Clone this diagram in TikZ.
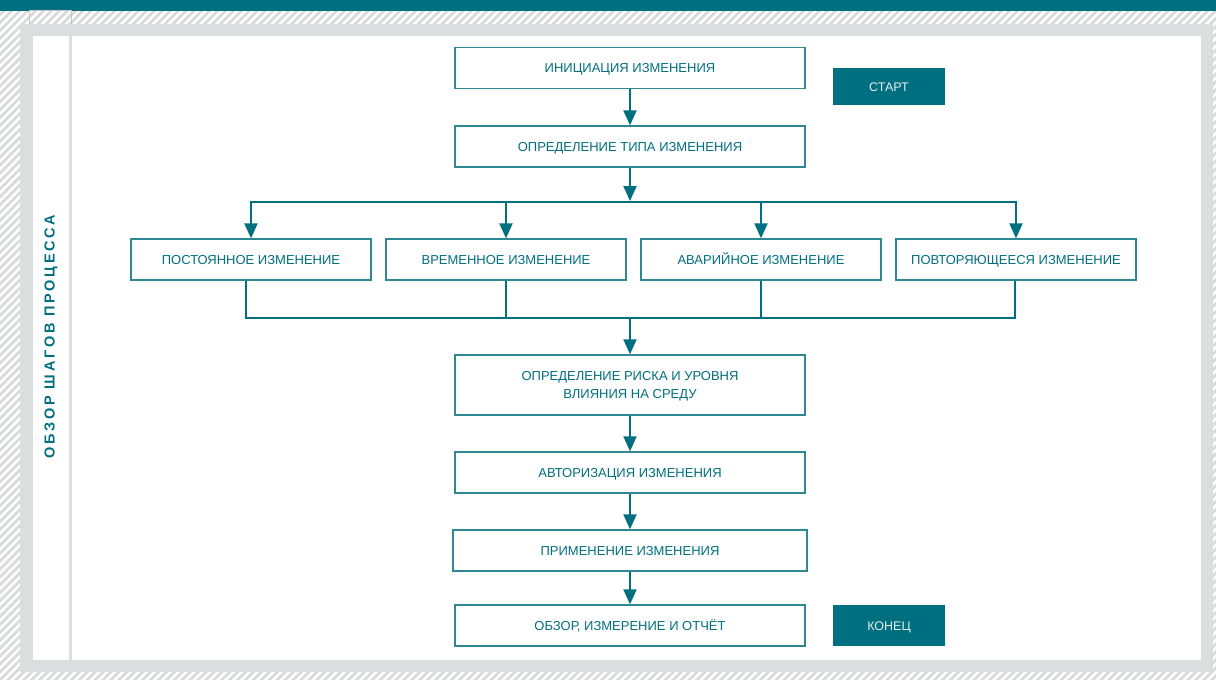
\documentclass[tikz,border=0pt]{standalone}
\usepackage{fontspec}
\setmainfont{Liberation Sans}
\newfontfamily\sidefont[LetterSpace=19]{Liberation Sans}
\usetikzlibrary{arrows.meta,patterns.meta}
\definecolor{teal1}{HTML}{006F7F}
\definecolor{tealline}{HTML}{2E8792}
\definecolor{bandgray}{HTML}{DCDDDF}
\definecolor{hatchgray}{HTML}{D9DADC}
\definecolor{tabgray}{HTML}{C4C8CB}
\definecolor{whitetxt}{HTML}{E2F0F1}
\tikzset{
  x=1pt, y=-1pt,
  stepbox/.style={draw=tealline, line width=1.3pt, fill=white, text=teal1,
    font=\fontsize{13}{16}\selectfont, align=center, inner sep=0pt,
    text height=9.4pt, text depth=0pt,
    minimum width=350pt, minimum height=41pt},
  branchbox/.style={stepbox, minimum width=240pt},
  termbox/.style={fill=teal1, text=whitetxt, font=\fontsize{12.5}{15}\selectfont,
    inner sep=0pt, text height=9pt, text depth=0pt, minimum width=112pt},
  txt/.style={text=teal1, font=\fontsize{13}{18}\selectfont, align=center, inner sep=0pt},
  ln/.style={draw=teal1, line width=2pt},
  arr/.style={ln, -{Triangle[width=13pt,length=15pt]}},
}
\begin{document}
\begin{tikzpicture}
\useasboundingbox (0,0) rectangle (1216,680);
% background hatching
\fill[white] (0,0) rectangle (1216,680);
\fill[pattern={Lines[angle=45,distance=5.6pt,line width=2.8pt]}, pattern color=hatchgray] (0,11) rectangle (1216,680);
% gray band and white panel
\fill[bandgray] (20,23.5) rectangle (1213,672);
\fill[white] (33,36) rectangle (1201,660);
% top bar
\fill[teal1] (0,0) rectangle (1216,11);
% tab
\draw[tabgray, line width=1.2pt] (29.5,23.5) -- (29.5,10.2) -- (71.5,10.2) -- (71.5,23.5);
% divider
\draw[bandgray, line width=2.4pt] (70.5,36) -- (70.5,660);
% side label
\node[rotate=90, text=teal1, font=\sidefont\bfseries\fontsize{14.5}{17}\selectfont] (side) at (51,336.5) {ОБЗОР ШАГОВ ПРОЦЕССА};

% nodes
\node[stepbox] (b1) at (630,68) {ИНИЦИАЦИЯ ИЗМЕНЕНИЯ};
\node[termbox, minimum height=37pt] (start) at (889,86.5) {СТАРТ};
\node[stepbox] (b2) at (630,146.5) {ОПРЕДЕЛЕНИЕ ТИПА ИЗМЕНЕНИЯ};
\node[branchbox] (p1) at (251,259.5) {ПОСТОЯННОЕ ИЗМЕНЕНИЕ};
\node[branchbox] (p2) at (506,259.5) {ВРЕМЕННОЕ ИЗМЕНЕНИЕ};
\node[branchbox] (p3) at (761,259.5) {АВАРИЙНОЕ ИЗМЕНЕНИЕ};
\node[branchbox] (p4) at (1016,259.5) {ПОВТОРЯЮЩЕЕСЯ ИЗМЕНЕНИЕ};
\node[stepbox, minimum height=60pt] (b5) at (630,385) {};
\node[txt] (b5t) at (630,386.5) {ОПРЕДЕЛЕНИЕ РИСКА И УРОВНЯ\\ВЛИЯНИЯ НА СРЕДУ};
\node[stepbox] (b6) at (630,472.5) {АВТОРИЗАЦИЯ ИЗМЕНЕНИЯ};
\node[stepbox, minimum width=354pt] (b7) at (630,550.5) {ПРИМЕНЕНИЕ ИЗМЕНЕНИЯ};
\node[stepbox] (b8) at (630,625.5) {ОБЗОР, ИЗМЕРЕНИЕ И ОТЧЁТ};
\node[termbox, minimum height=41pt] (end) at (889,625.5) {КОНЕЦ};

\coordinate (hb) at (630,202);
\coordinate (hb2) at (630,318);

% connectors
\draw[arr] (b1) -- (b2);
\draw[arr] (b2.south) -- ([yshift=1pt]b2.south |- hb);
\draw[ln, line cap=rect] (p1.north |- hb) -- (p4.north |- hb);
\draw[arr] (p1.north |- hb) -- (p1.north);
\draw[arr] (p2.north |- hb) -- (p2.north);
\draw[arr] (p3.north |- hb) -- (p3.north);
\draw[arr] (p4.north |- hb) -- (p4.north);

\draw[ln] ([xshift=-5pt]p1.south) |- ([xshift=-1pt]p4.south |- hb2) -- ([xshift=-1pt]p4.south);
\draw[ln] (p2.south) -- (p2.south |- hb2);
\draw[ln] (p3.south) -- (p3.south |- hb2);
\draw[arr] (b2.south |- hb2) -- (b5.north);
\draw[arr] (b5) -- (b6);
\draw[arr] (b6) -- (b7);
\draw[arr] (b7) -- (b8);
\end{tikzpicture}
\end{document}
